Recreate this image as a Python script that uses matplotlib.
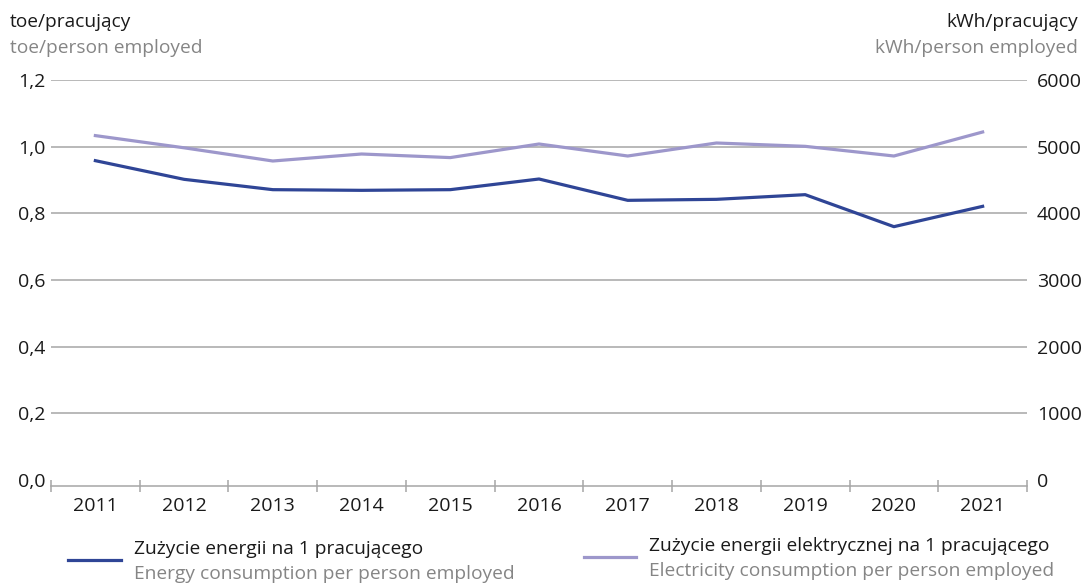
import numpy as np
import matplotlib.pyplot as plt
from matplotlib.lines import Line2D

plt.rcParams['font.family'] = ['Open Sans', 'DejaVu Sans']

years = ['2011', '2012', '2013', '2014', '2015', '2016',
         '2017', '2018', '2019', '2020', '2021']
energia = [0.958, 0.902, 0.871, 0.869, 0.871, 0.903,
           0.839, 0.842, 0.856, 0.760, 0.821]  # toe/pracujący
elektr = [5166, 4983, 4785, 4890, 4836, 5040,
          4860, 5055, 5005, 4860, 5220]  # kWh/pracujący

c_dark = '#2f4596'
c_light = '#9d97cb'
c_grid = '#a6a6a6'
c_gray = '#858585'
c_text = '#1a1a1a'
fs = 13.8

fig = plt.figure(figsize=(10.84, 5.85), dpi=100)
ax = fig.add_axes([51 / 1084, 1 - 486 / 585, (1027 - 51) / 1084, (486 - 80) / 585])
ax2 = ax.twinx()

x = np.arange(len(years))
ax.plot(x, energia, color=c_dark, lw=2.3, zorder=3)
ax2.plot(x, elektr, color=c_light, lw=2.3, zorder=3)

ax.set_xlim(-0.5, len(years) - 0.5)
ax.set_ylim(-0.018, 1.2)
ax2.set_ylim(-90, 6000)

# siatka pozioma
for v in [0.2, 0.4, 0.6, 0.8, 1.0, 1.2]:
    ax.axhline(v, color=c_grid, lw=1.1, zorder=1)

ax.set_yticks([0, 0.2, 0.4, 0.6, 0.8, 1.0, 1.2])
ax.set_yticklabels(['0,0', '0,2', '0,4', '0,6', '0,8', '1,0', '1,2'])
ax2.set_yticks([0, 1000, 2000, 3000, 4000, 5000, 6000])
ax2.set_yticklabels(['0', '1000', '2000', '3000', '4000', '5000', '6000'])

ax.set_xticks(x)
ax.set_xticklabels(years)
ax.set_xticks(np.arange(-0.5, len(years)), minor=True)
ax.tick_params(axis='x', which='major', length=0, labelsize=14, colors=c_text, pad=8)
ax.tick_params(axis='x', which='minor', length=9, direction='inout', color=c_grid, width=1.1)
ax.tick_params(axis='y', length=0, labelsize=14, colors=c_text, pad=4)
ax2.tick_params(axis='y', length=0, labelsize=14, colors=c_text, pad=7)

for a in (ax, ax2):
    for s in ['top', 'left', 'right', 'bottom']:
        a.spines[s].set_visible(False)
ax.spines['bottom'].set_visible(True)
ax.spines['bottom'].set_color(c_grid)
ax.spines['bottom'].set_linewidth(1.1)

# opisy osi
fig.text(10 / 1084, 1 - 22 / 585, 'toe/pracujący', fontsize=fs, color=c_text, va='center')
fig.text(10 / 1084, 1 - 48 / 585, 'toe/person employed', fontsize=fs, color=c_gray, va='center')
fig.text(1078 / 1084, 1 - 22 / 585, 'kWh/pracujący', fontsize=fs, color=c_text, va='center', ha='right')
fig.text(1078 / 1084, 1 - 48 / 585, 'kWh/person employed', fontsize=fs, color=c_gray, va='center', ha='right')

# legenda
fig.add_artist(Line2D([68 / 1084, 121 / 1084], [1 - 560 / 585] * 2, color=c_dark, lw=2.3))
fig.text(134 / 1084, 1 - 549 / 585, 'Zużycie energii na 1 pracującego', fontsize=fs, color=c_text, va='center')
fig.text(134 / 1084, 1 - 574 / 585, 'Energy consumption per person employed', fontsize=fs, color=c_gray, va='center')
fig.add_artist(Line2D([584 / 1084, 636 / 1084], [1 - 557 / 585] * 2, color=c_light, lw=2.3))
fig.text(649 / 1084, 1 - 546 / 585, 'Zużycie energii elektrycznej na 1 pracującego', fontsize=fs, color=c_text, va='center')
fig.text(649 / 1084, 1 - 571 / 585, 'Electricity consumption per person employed', fontsize=fs, color=c_gray, va='center')

plt.savefig('out.png', dpi=100)
